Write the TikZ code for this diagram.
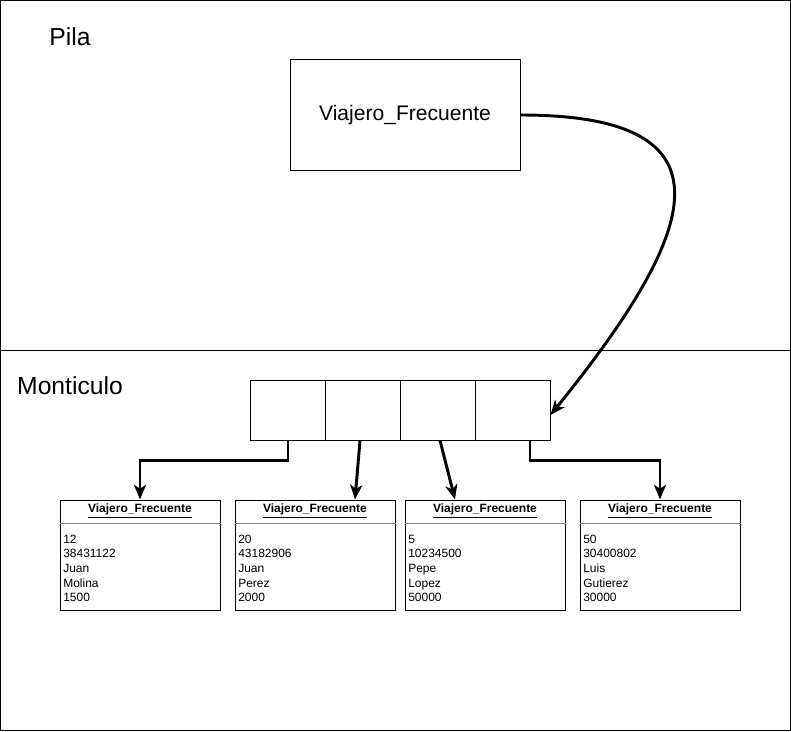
\documentclass[tikz,border=0pt]{standalone}
\usepackage{fontspec}
\setmainfont{Liberation Sans}
\usetikzlibrary{arrows.meta}
\begin{document}
\begin{tikzpicture}[x=0.75pt,y=-0.75pt,
  frame/.style={draw=black,line width=0.75pt},
  title/.style={font=\fontsize{18.5}{22}\selectfont},
  cell/.style={draw=black,line width=0.75pt,minimum width=75*0.75pt,minimum height=60*0.75pt,inner sep=0pt},
  obj/.style={draw=black,line width=0.75pt,minimum width=160*0.75pt,minimum height=110*0.75pt,inner sep=0pt},
  link/.style={line width=2.2pt,-{Stealth[length=11pt,width=9pt,inset=3pt]}},
  hdr/.style={font=\bfseries\fontsize{9}{11}\selectfont},
  body/.style={font=\fontsize{9}{11}\selectfont,align=left,anchor=north west,inner sep=0pt}
]
\useasboundingbox (0,0) rectangle (791,731);
\draw[frame] (0.5,0.5) rectangle (790.5,730.5);
\coordinate (divL) at (0,350.5);
\coordinate (divR) at (791,350.5);
\draw[frame] (divL) -- (divR);
\node[title] (pila) at (70,37) {Pila};
\node[title] (mont) at (70,386) {Monticulo};
\node[draw=black,line width=0.75pt,minimum width=230*0.75pt,minimum height=110*0.75pt,inner sep=0pt,font=\fontsize{15.8}{18}\selectfont] (vf) at (405,115) {Viajero\_Frecuente};
% array
\node[cell] (c1) at (287.5,410) {};
\node[cell] (c2) at (362.5,410) {};
\node[cell] (c3) at (437.5,410) {};
\node[cell] (c4) at (512.5,410) {};
% objects
\foreach \n/\x/\a/\b/\c/\d/\e in {o1/140/12/38431122/Juan/Molina/1500, o2/315/20/43182906/Juan/Perez/2000, o3/485/5/10234500/Pepe/Lopez/50000, o4/660/50/30400802/Luis/Gutierez/30000}{
  \node[obj] (\n) at (\x,555) {};
  \draw[line width=0.75pt,draw=black!45] ([yshift=-24*0.75pt]\n.north west) -- ([yshift=-24*0.75pt]\n.north east);
  \node[hdr] (\n h) at (\x,511) {\underline{Viajero\_Frecuente}};
  \node[body] (\n b) at (\x-77,534.5) {\a\\\b\\\c\\\d\\\e};
}
% links
\draw[link] ([xshift=0.5*0.75pt]c1.south) -- ++(0,20) -| (o1.north);
\draw[link] ([xshift=-2.5*0.75pt]c2.south) -- ([xshift=40*0.75pt]o2.north);
\draw[link] ([xshift=2.5*0.75pt]c3.south) -- ([xshift=-30*0.75pt]o3.north);
\draw[link] ([xshift=17.5*0.75pt]c4.south) -- ++(0,20) -| (o4.north);
\draw[link] (vf.east) .. controls (740,115) and (700,230) .. ([yshift=-5*0.75pt]c4.east);
\end{tikzpicture}
\end{document}
